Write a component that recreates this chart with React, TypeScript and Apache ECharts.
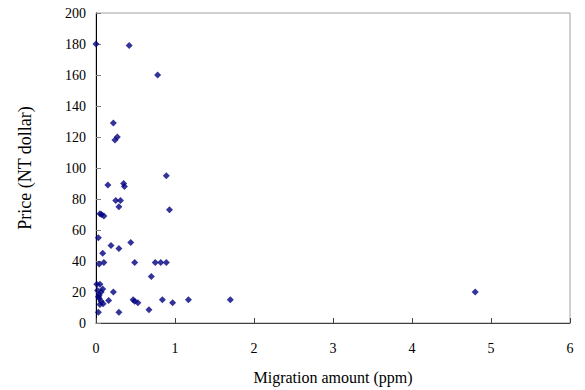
import React, { useEffect, useRef } from "react";
import * as echarts from "echarts";

const migration: number[] = [
  0.0, 0.42, 0.78, 0.22, 0.27, 0.24, 0.15, 0.35, 0.36, 0.89, 0.25, 0.31, 0.29, 0.93,
  0.05, 0.07, 0.1, 0.03, 0.19, 0.29, 0.44, 0.085, 0.04, 0.1, 0.49, 0.75, 0.82, 0.89,
  0.7, 0.01, 0.05, 0.085, 0.065, 0.22, 0.04, 0.04, 0.065, 0.05, 0.09, 0.16, 0.47,
  0.49, 0.53, 0.84, 0.97, 1.17, 0.67, 0.29, 0.03, 1.7, 4.8, 0.02, 0.03,
];
const price: number[] = [
  180, 179, 160, 129, 120, 118, 89, 90, 88, 95, 79, 79, 75, 73,
  70.5, 70, 69, 55, 50, 48, 52, 45, 38, 39, 39, 39, 39, 39,
  30, 25, 25, 22, 20, 20, 18, 16, 14, 12, 12.5, 14.5, 15,
  14, 13, 15, 13, 15, 8.5, 7, 7, 15, 20, 21, 17,
];
const xTicks = [0, 6, 1];
const yTicks = [0, 200, 20];

export default function App() {
  const ref = useRef<HTMLDivElement>(null);
  useEffect(() => {
    if (!ref.current) return;
    const chart = echarts.init(ref.current, null, { renderer: "svg" });
    const font = "'Liberation Serif', 'Times New Roman', serif";
    chart.setOption({
      animation: false,
      grid: {
        left: 96,
        right: 15,
        top: 13,
        bottom: 62,
        show: true,
        borderColor: "#a0a0a0",
        borderWidth: 1,
      },
      xAxis: {
        type: "value",
        min: xTicks[0],
        max: xTicks[1],
        interval: xTicks[2],
        name: "Migration amount (ppm)",
        nameLocation: "middle",
        nameGap: 46,
        nameTextStyle: { fontFamily: font, fontSize: 16, color: "#000" },
        axisLine: { show: true, lineStyle: { color: "#404040", width: 1 } },
        axisTick: { show: true, inside: true, length: 5, lineStyle: { color: "#404040" } },
        axisLabel: { fontFamily: font, fontSize: 14, color: "#000", margin: 18 },
        splitLine: { show: false },
      },
      yAxis: {
        type: "value",
        min: yTicks[0],
        max: yTicks[1],
        interval: yTicks[2],
        name: "Price (NT dollar)",
        nameLocation: "middle",
        nameGap: 62,
        nameTextStyle: { fontFamily: font, fontSize: 18, color: "#000" },
        axisLine: { show: true, lineStyle: { color: "#000", width: 1 } },
        axisTick: { show: true, inside: true, length: 5, lineStyle: { color: "#808080" } },
        axisLabel: { fontFamily: font, fontSize: 14, color: "#000", margin: 10 },
        splitLine: { show: false },
      },
      series: [
        {
          type: "scatter",
          symbol: "diamond",
          symbolSize: 7,
          itemStyle: { color: "#000080" },
          data: migration.map((x, i) => [x, price[i]]),
        },
      ],
    });
    return () => chart.dispose();
  }, []);
  return (
    <div
      ref={ref}
      style={{ position: "fixed", left: 0, top: 0, width: 585, height: 390, background: "#fff" }}
    />
  );
}
